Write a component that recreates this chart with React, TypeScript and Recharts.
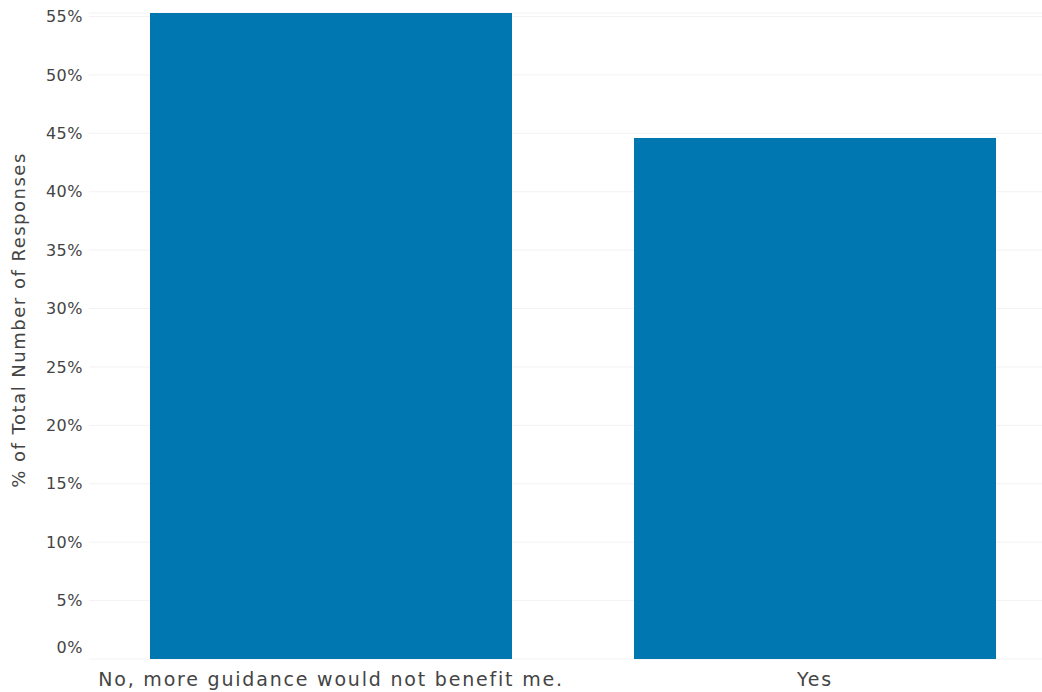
import React from "react";
import { BarChart, Bar, XAxis, YAxis, CartesianGrid } from "recharts";

const categories = ["No, more guidance would not benefit me.", "Yes"];
const shares = [55.3, 44.6];
const yTicks = [0, 5, 10, 15, 20, 25, 30, 35, 40, 45, 50, 55];

const BAR_COLOR = "#0077b1";
const TEXT_COLOR = "#444444";
const FONT = "'DejaVu Sans', sans-serif";

const data = categories.map((name, i) => ({ name, share: shares[i] }));

function YTick(props: any) {
  const { x, y, payload } = props;
  // Tableau pushes the bottom label up so it stays clear of the category labels
  const shift = payload.value === 0 ? -12 : 0;
  return (
    <text
      x={x + 2}
      y={y + shift}
      dy="0.35em"
      textAnchor="end"
      fill={TEXT_COLOR}
      fontSize={16}
      letterSpacing={0.5}
      fontFamily={FONT}
    >
      {`${payload.value}%`}
    </text>
  );
}

function XTick(props: any) {
  const { x, y, payload } = props;
  return (
    <text
      x={x}
      y={y + 19}
      textAnchor="middle"
      fill={TEXT_COLOR}
      fontSize={19}
      letterSpacing={1.8}
      fontFamily={FONT}
    >
      {payload.value}
    </text>
  );
}

export default function App() {
  return (
    <div
      style={{
        position: "absolute",
        left: 0,
        top: 0,
        width: 1042,
        height: 692,
        overflow: "hidden",
        background: "#ffffff",
      }}
    >
      <BarChart
        width={1057}
        height={692}
        data={data}
        margin={{ top: 13, right: 0, left: 0, bottom: 0 }}
      >
        <CartesianGrid horizontal vertical={false} stroke="#f2f2f2" />
        <XAxis
          dataKey="name"
          axisLine={false}
          tickLine={false}
          height={33}
          tick={<XTick />}
          interval={0}
        />
        <YAxis
          domain={[0, 55.3]}
          ticks={yTicks}
          axisLine={false}
          tickLine={false}
          width={89}
          tick={<YTick />}
          label={() => (
            <text
              transform="translate(25, 320) rotate(-90)"
              textAnchor="middle"
              fill={TEXT_COLOR}
              fontSize={18}
              letterSpacing={1.5}
              fontFamily={FONT}
            >
              % of Total Number of Responses
            </text>
          )}
        />
        <Bar dataKey="share" fill={BAR_COLOR} barSize={362} isAnimationActive={false} />
      </BarChart>
    </div>
  );
}
